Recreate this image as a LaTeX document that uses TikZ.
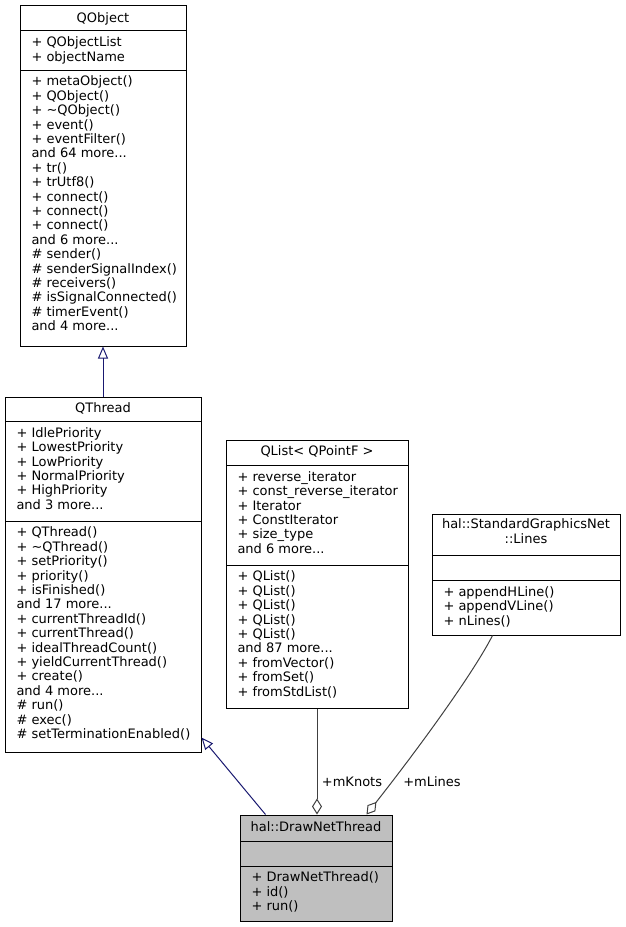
\documentclass[tikz,border=0pt]{standalone}
\usepackage{fontspec}
\setmainfont{DejaVu Sans}
\usepackage{tikz}
\usetikzlibrary{arrows.meta,positioning,fit,calc}
\definecolor{edgenavy}{HTML}{191970}
\definecolor{edgegray}{HTML}{404040}
\definecolor{boxgray}{HTML}{BFBFBF}
\newcommand{\andmore}[1]{and #1 more...}

\begin{document}
\begin{tikzpicture}[x=.75pt,y=-.75pt,font=\fontsize{9.75}{10.8}\selectfont,line width=.75pt,
  classbox/.style={draw,inner sep=0pt},
  member/.style={anchor=west,inner sep=0pt,text height=7pt,text depth=2pt},
  title/.style={inner sep=0pt,text height=7pt,text depth=2pt},
  inherit/.style={edgenavy,-{Triangle[open,length=9pt,width=7.5pt]}},
  aggreg/.style={edgegray,-{Diamond[open,length=12pt,width=7.5pt]}}]
\useasboundingbox (0,0) rectangle (625,927);
% QObject
\node[classbox,fit={(20,6) (186,346)}] (qobject) {};
\node[title] (qobject-t) at (103,19) {QObject};
\draw (20,31) -- (186,31); \draw (20,71) -- (186,71);
\foreach \m [count=\i from 0] in {+ QObjectList,+ objectName}
  \node[member] (qobject-a\i) at (31,43.5+14.4*\i) {\m};
\foreach \m [count=\i from 0] in {+ metaObject(),+ QObject(),+ \textasciitilde QObject(),+ event(),+ eventFilter(),\andmore{64},+ tr(),+ trUtf8(),+ connect(),+ connect(),+ connect(),\andmore{6},\# sender(),\# senderSignalIndex(),\# receivers(),\# isSignalConnected(),\# timerEvent(),\andmore{4}}
  \node[member] (qobject-m\i) at (31,82.5+14.4*\i) {\m};
% QThread
\node[classbox,fit={(5,397) (201,752)}] (qthread) {};
\node[title] (qthread-t) at (103,409.5) {QThread};
\draw (5,421) -- (201,421); \draw (5,521) -- (201,521);
\foreach \m [count=\i from 0] in {+ IdlePriority,+ LowestPriority,+ LowPriority,+ NormalPriority,+ HighPriority,\andmore{3}}
  \node[member] (qthread-a\i) at (16,434+14.4*\i) {\m};
\foreach \m [count=\i from 0] in {+ QThread(),+ \textasciitilde QThread(),+ setPriority(),+ priority(),+ isFinished(),\andmore{17},+ currentThreadId(),+ currentThread(),+ idealThreadCount(),+ yieldCurrentThread(),+ create(),\andmore{4},\# run(),\# exec(),\# setTerminationEnabled()}
  \node[member] (qthread-m\i) at (16,533.5+14.4*\i) {\m};
% QList< QPointF >
\node[classbox,fit={(226,440) (408,708)}] (qlist) {};
\node[title] (qlist-t) at (317,452.5) {QList< QPointF >};
\draw (226,465) -- (408,465); \draw (226,565) -- (408,565);
\foreach \m [count=\i from 0] in {+ reverse\_iterator,+ const\_reverse\_iterator,+ Iterator,+ ConstIterator,+ size\_type,\andmore{6}}
  \node[member] (qlist-a\i) at (237,478+14.4*\i) {\m};
\foreach \m [count=\i from 0] in {+ QList(),+ QList(),+ QList(),+ QList(),+ QList(),\andmore{87},+ fromVector(),+ fromSet(),+ fromStdList()}
  \node[member] (qlist-m\i) at (237,577.5+14.4*\i) {\m};
% hal::StandardGraphicsNet::Lines
\node[classbox,fit={(432,514) (620,635)}] (lines) {};
\node[inner sep=0pt,align=center] (lines-t) at (526,531) {hal::StandardGraphicsNet\\::Lines};
\draw (432,555) -- (620,555); \draw (432,580) -- (620,580);
\foreach \m [count=\i from 0] in {+ appendHLine(),+ appendVLine(),+ nLines()}
  \node[member] (lines-m\i) at (443,593+14.4*\i) {\m};
% hal::DrawNetThread
\node[classbox,fill=boxgray,fit={(240,815) (392,921)}] (drawnet) {};
\node[title] (drawnet-t) at (316,828.5) {hal::DrawNetThread};
\draw (240,841) -- (392,841); \draw (240,866) -- (392,866);
\foreach \m [count=\i from 0] in {+ DrawNetThread(),+ id(),+ run()}
  \node[member] (drawnet-m\i) at (251,878.5+14.4*\i) {\m};
% edges
\draw[inherit] (qthread.north) -- (qobject.south);
\draw[inherit] ($(drawnet.north west)+(26,0)$) -- ($(qthread.south east)+(0,-15)$);
\draw[aggreg] (qlist.south) -- (qlist.south |- drawnet.north);
\draw[aggreg] ($(lines.south west)+(61,0)$) .. controls (475,670) and (425,740) .. ($(drawnet.north east)+(-26,0)$);
\node[title] (knots) at (352,783) {+mKnots};
\node[title] (mlines) at (432,783) {+mLines};
\end{tikzpicture}
\end{document}
